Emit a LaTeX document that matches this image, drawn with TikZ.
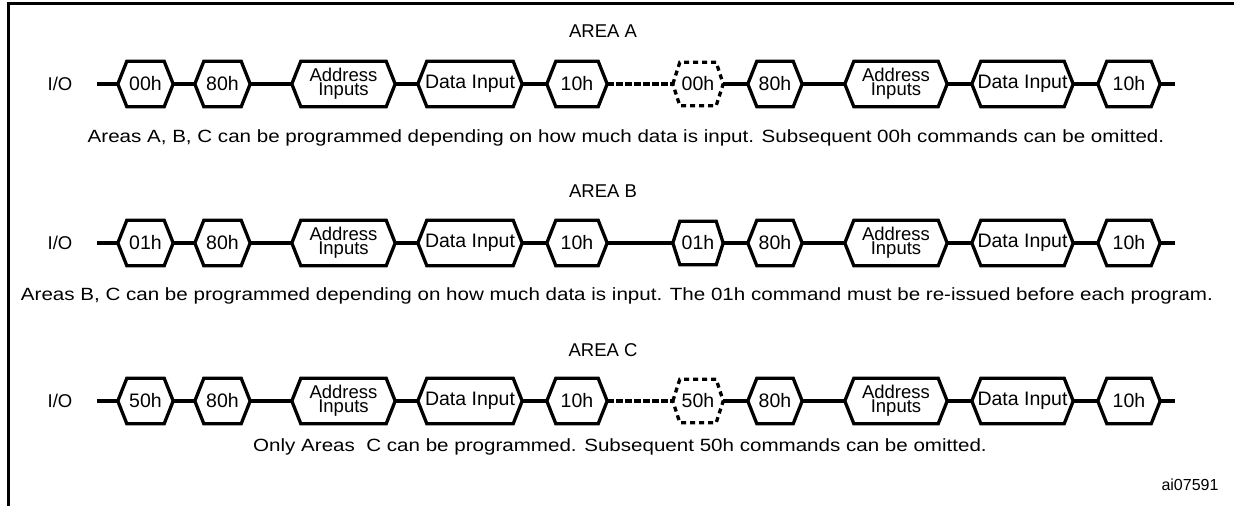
\documentclass[tikz,border=0pt]{standalone}
\usepackage{fontspec}
\setmainfont{Liberation Sans}
\newfontfamily\capfont{Liberation Sans}[FakeStretch=1.162]
\tikzset{
  x=1pt, y=-1pt,
  hexbox/.style={inner sep=0pt, minimum height=45pt, align=center,
    font=\fontsize{19.5}{11}\selectfont},
  addrbox/.style={hexbox, font=\fontsize{18.5}{10.5}\selectfont},
  hexline/.style={line width=3.3pt, line join=miter},
  hexdash/.style={line width=3.3pt, dash pattern=on 5pt off 4pt},
  wire/.style={line width=3.3pt},
  wiredash/.style={line width=3.3pt, dash pattern=on 7pt off 2pt},
  lbl/.style={inner sep=0pt, font=\fontsize{18.5}{20}\selectfont},
  caption/.style={inner sep=0pt, font=\capfont\fontsize{17.7}{20}\selectfont},
  frame/.style={line width=3pt}
}
\newcommand\hexdraw[3][9pt]{%
  \draw[#2] (#3.west) -- ([xshift=#1]#3.north west) -- ([xshift=-#1]#3.north east)
    -- (#3.east) -- ([xshift=-#1]#3.south east) -- ([xshift=#1]#3.south west) -- cycle;}
% #1 prefix, #2 y, #3 first command, #4 repeated command, #5 style of repeated hexagon, #6 style of its connector
\newcommand\seqrow[6]{%
  \node[lbl] (#1io) at (60,#2) {I/O};
  \coordinate (#1s) at (97,#2);
  \coordinate (#1e) at (1175,#2);
  \node[hexbox, minimum width=55pt]  (#1h1)  at (145.5,#2) {#3};
  \node[hexbox, minimum width=55pt]  (#1h2)  at (222.5,#2) {80h};
  \node[addrbox, minimum width=103pt] (#1h3)  at (343.5,#2) {Address\\Inputs};
  \node[hexbox, minimum width=104pt] (#1h4)  at (470,#2)   {Data Input};
  \node[hexbox, minimum width=60pt]  (#1h5)  at (577,#2)   {10h};
  \node[hexbox, minimum width=50pt, minimum height=43pt] (#1h6) at (698,#2) {#4};
  \node[hexbox, minimum width=54pt]  (#1h7)  at (775,#2)   {80h};
  \node[addrbox, minimum width=102pt] (#1h8)  at (896,#2)   {Address\\Inputs};
  \node[hexbox, minimum width=101pt] (#1h9)  at (1022.5,#2) {Data Input};
  \node[hexbox, minimum width=62pt]  (#1h10) at (1129,#2)  {10h};
  \hexdraw{hexline}{#1h1}
  \hexdraw{hexline}{#1h2}
  \hexdraw{hexline}{#1h3}
  \hexdraw{hexline}{#1h4}
  \hexdraw{hexline}{#1h5}
  \hexdraw[7pt]{#5}{#1h6}
  \hexdraw{hexline}{#1h7}
  \hexdraw{hexline}{#1h8}
  \hexdraw{hexline}{#1h9}
  \hexdraw{hexline}{#1h10}
  \draw[wire] (#1s) -- (#1h1.west);
  \draw[wire] (#1h1.east) -- (#1h2.west);
  \draw[wire] (#1h2.east) -- (#1h3.west);
  \draw[wire] (#1h3.east) -- (#1h4.west);
  \draw[wire] (#1h4.east) -- (#1h5.west);
  \draw[#6] (#1h5.east) -- (#1h6.west);
  \draw[wire] (#1h6.east) -- (#1h7.west);
  \draw[wire] (#1h7.east) -- (#1h8.west);
  \draw[wire] (#1h8.east) -- (#1h9.west);
  \draw[wire] (#1h9.east) -- (#1h10.west);
  \draw[wire] (#1h10.east) -- (#1e);
}
\begin{document}
\begin{tikzpicture}
\useasboundingbox (0,0) rectangle (1234,506);
\draw[frame] (8.5,506) -- (8.5,3) -- (1234,3);

\node[lbl] (tA) at (603,31) {AREA A};
\seqrow{a}{84}{00h}{00h}{hexdash}{wiredash}
\node[caption] (cA) at (626,138) {Areas A, B, C can be programmed depending on how much data is input. Subsequent 00h commands can be omitted.};

\node[lbl] (tB) at (603,191) {AREA B};
\seqrow{b}{243}{01h}{01h}{hexline}{wire}
\node[caption] (cB) at (617,296) {Areas B, C can be programmed depending on how much data is input. The 01h command must be re-issued before each program.};

\node[lbl] (tC) at (603,350) {AREA C};
\seqrow{c}{401}{50h}{50h}{hexdash}{wiredash}
\node[caption] (cC) at (620,447) {Only Areas\ \ C can be programmed. Subsequent 50h commands can be omitted.};

\node[lbl, font=\fontsize{16}{18}\selectfont] (id) at (1190,485) {ai07591};
\end{tikzpicture}
\end{document}
